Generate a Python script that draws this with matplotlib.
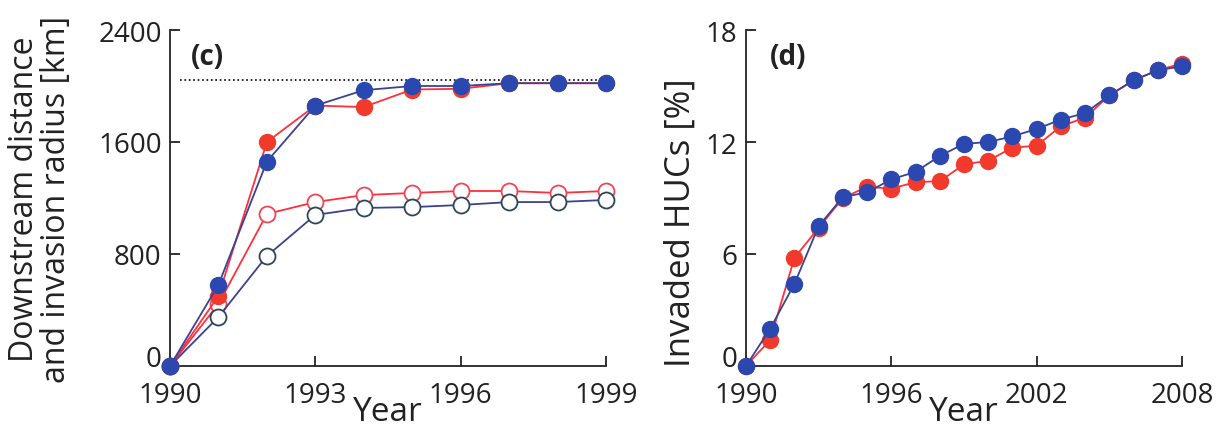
import matplotlib
matplotlib.use('Agg')
import matplotlib.pyplot as plt

plt.rcParams['font.family'] = ['Open Sans', 'DejaVu Sans']

# ---- panel (c): downstream distance / invasion radius [km] ----
years_c = list(range(1990, 2000))
c_red_filled = [0, 500, 1600, 1860, 1850, 1975, 1980, 2020, 2020, 2020]
c_blue_filled = [0, 580, 1460, 1860, 1970, 2000, 2000, 2020, 2020, 2020]
c_red_open = [0, 443, 1086, 1171, 1221, 1236, 1250, 1250, 1236, 1250]
c_blue_open = [0, 350, 786, 1079, 1129, 1135, 1150, 1171, 1171, 1186]
c_limit = 2040
c_yticks = [0, 800, 1600, 2400]
c_xticks = [1990, 1993, 1996, 1999]

# ---- panel (d): invaded HUCs [%] ----
years_d = list(range(1990, 2009))
d_red = [0, 1.4, 5.8, 7.4, 9.0, 9.6, 9.5, 9.85, 9.9, 10.8, 11.0, 11.7, 11.8,
         12.85, 13.3, 14.5, 15.3, 15.85, 16.2]
d_blue = [0, 2.0, 4.4, 7.5, 9.05, 9.3, 10.0, 10.4, 11.25, 11.9, 12.0, 12.3,
          12.7, 13.2, 13.55, 14.5, 15.3, 15.85, 16.05]
d_yticks = [0, 6, 12, 18]
d_xticks = [1990, 1996, 2002, 2008]

RED = '#f23a2c'
RED_LINE = '#ff2f3c'
BLUE = '#2a48b0'
BLUE_LINE = '#3c4290'
BLUE_EDGE = '#2c4658'
MS = 11.5


def style_axes(ax, xticks, yticks):
    ax.spines['top'].set_visible(False)
    ax.spines['right'].set_visible(False)
    for s in ('left', 'bottom'):
        ax.spines[s].set_linewidth(1.3)
        ax.spines[s].set_color('#222222')
    ax.set_xticks(xticks)
    ax.set_yticks(yticks)
    ax.set_xlim(xticks[0], xticks[-1])
    ax.set_ylim(yticks[0], yticks[-1])
    ax.tick_params(direction='in', length=7, width=1.3, labelsize=20,
                   color='#222222', labelcolor='#222222')
    ax.tick_params(axis='x', pad=11)
    ax.tick_params(axis='y', pad=6)
    ax.set_xlabel('Year', fontsize=24, labelpad=-10, color='#222222')
    # the "0" sits on the axis line, above the first year label
    ax.get_yticklabels()[0].set_verticalalignment('baseline')


fig = plt.figure(figsize=(12.19, 4.27), dpi=100)
W, H = 1219, 427
ax_c = fig.add_axes([170 / W, 1 - 367 / H, 436 / W, 336 / H])
ax_d = fig.add_axes([746 / W, 1 - 367 / H, 436 / W, 336 / H])

# panel c
ax_c.plot([1990.2, 1999.15], [c_limit, c_limit], ls=':', color='k', lw=1.2,
          clip_on=False)
ax_c.plot(years_c, c_red_open, '-o', color=RED_LINE, lw=1.3, ms=MS,
          mfc='white', mec='#ee4656', mew=1.3, clip_on=False, zorder=3)
ax_c.plot(years_c, c_blue_open, '-o', color=BLUE_LINE, lw=1.3, ms=MS,
          mfc='white', mec=BLUE_EDGE, mew=1.3, clip_on=False, zorder=3)
ax_c.plot(years_c, c_red_filled, '-o', color=RED_LINE, lw=1.3, ms=MS,
          mfc=RED, mec=RED, clip_on=False, zorder=4)
ax_c.plot(years_c, c_blue_filled, '-o', color=BLUE_LINE, lw=1.3, ms=MS,
          mfc=BLUE, mec=BLUE, clip_on=False, zorder=5)
style_axes(ax_c, c_xticks, c_yticks)
ax_c.set_ylabel('Downstream distance\nand invasion radius [km]', fontsize=23,
                linespacing=0.95, color='#222222')
ax_c.yaxis.set_label_coords(-0.222, 0.5)
ax_c.text(0.048, 0.965, '(c)', transform=ax_c.transAxes, fontsize=20,
          fontweight='bold', va='top', ha='left', color='#222222')

# panel d
ax_d.plot(years_d, d_red, '-o', color=RED_LINE, lw=1.3, ms=MS,
          mfc=RED, mec=RED, clip_on=False, zorder=3)
ax_d.plot(years_d, d_blue, '-o', color=BLUE_LINE, lw=1.3, ms=MS,
          mfc=BLUE, mec=BLUE, clip_on=False, zorder=4)
style_axes(ax_d, d_xticks, d_yticks)
ax_d.set_ylabel('Invaded HUCs [%]', fontsize=25, color='#222222')
ax_d.yaxis.set_label_coords(-0.11, 0.43)
ax_d.text(0.055, 0.965, '(d)', transform=ax_d.transAxes, fontsize=20,
          fontweight='bold', va='top', ha='left', color='#222222')

fig.savefig('out.png', dpi=100)
